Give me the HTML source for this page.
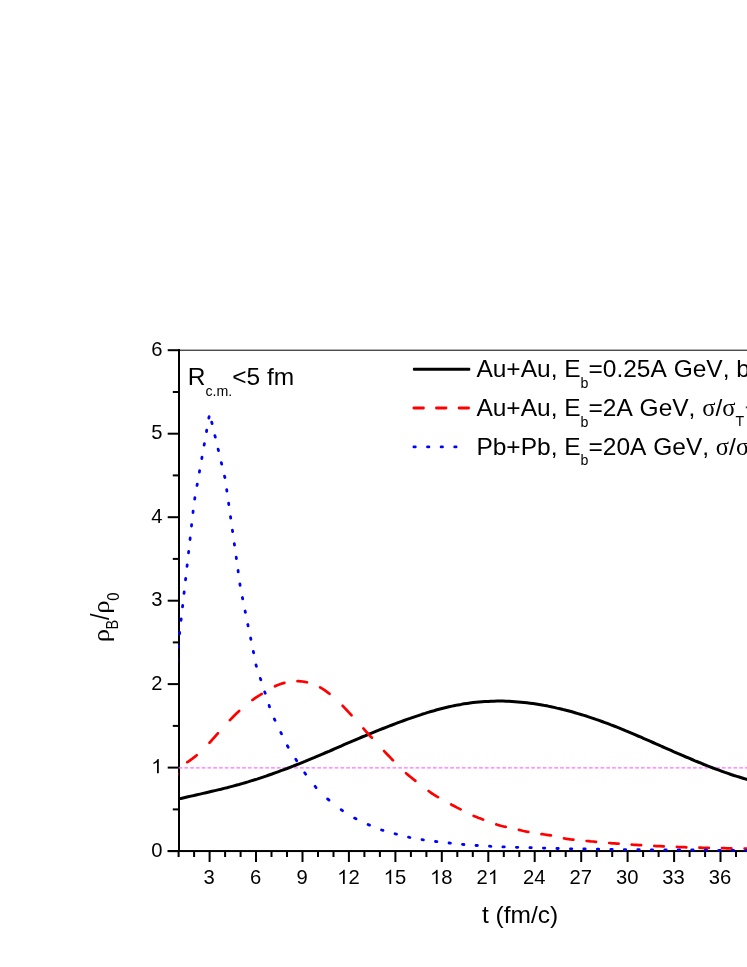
<!DOCTYPE html>
<html><head><meta charset="utf-8"><title>chart</title>
<style>
html,body{margin:0;padding:0;background:#fff;}
body{width:747px;height:967px;overflow:hidden;font-family:"Liberation Sans",sans-serif;}
svg{display:block;will-change:transform;}
text{font-family:"Liberation Sans",sans-serif;fill:#000;font-kerning:none;}
.ser{font-family:"Liberation Serif",serif;}
</style></head><body>
<svg width="747" height="967" viewBox="0 0 747 967">
<rect width="747" height="967" fill="#fff"/>
<rect x="178" y="349.7" width="569" height="1" fill="#000"/>
<rect x="178" y="349" width="2" height="503" fill="#000"/>
<rect x="167.7" y="850.05" width="579.3" height="2" fill="#000"/>
<rect x="167.7" y="850.1" width="11.3" height="2" fill="#000"/>
<rect x="172.8" y="808.4" width="6.2" height="2" fill="#000"/>
<rect x="167.7" y="766.6" width="11.3" height="2" fill="#000"/>
<rect x="172.8" y="724.9" width="6.2" height="2" fill="#000"/>
<rect x="167.7" y="683.1" width="11.3" height="2" fill="#000"/>
<rect x="172.8" y="641.4" width="6.2" height="2" fill="#000"/>
<rect x="167.7" y="599.7" width="11.3" height="2" fill="#000"/>
<rect x="172.8" y="557.9" width="6.2" height="2" fill="#000"/>
<rect x="167.7" y="516.2" width="11.3" height="2" fill="#000"/>
<rect x="172.8" y="474.4" width="6.2" height="2" fill="#000"/>
<rect x="167.7" y="432.7" width="11.3" height="2" fill="#000"/>
<rect x="172.8" y="391.0" width="6.2" height="2" fill="#000"/>
<rect x="167.7" y="349.2" width="11.3" height="2" fill="#000"/>
<rect x="177.6" y="851" width="2" height="6" fill="#000"/>
<rect x="193.1" y="851" width="2" height="6" fill="#000"/>
<rect x="208.6" y="851" width="2" height="11" fill="#000"/>
<rect x="224.1" y="851" width="2" height="6" fill="#000"/>
<rect x="239.6" y="851" width="2" height="6" fill="#000"/>
<rect x="255.0" y="851" width="2" height="11" fill="#000"/>
<rect x="270.5" y="851" width="2" height="6" fill="#000"/>
<rect x="286.0" y="851" width="2" height="6" fill="#000"/>
<rect x="301.5" y="851" width="2" height="11" fill="#000"/>
<rect x="317.0" y="851" width="2" height="6" fill="#000"/>
<rect x="332.5" y="851" width="2" height="6" fill="#000"/>
<rect x="347.9" y="851" width="2" height="11" fill="#000"/>
<rect x="363.4" y="851" width="2" height="6" fill="#000"/>
<rect x="378.9" y="851" width="2" height="6" fill="#000"/>
<rect x="394.4" y="851" width="2" height="11" fill="#000"/>
<rect x="409.9" y="851" width="2" height="6" fill="#000"/>
<rect x="425.4" y="851" width="2" height="6" fill="#000"/>
<rect x="440.8" y="851" width="2" height="11" fill="#000"/>
<rect x="456.3" y="851" width="2" height="6" fill="#000"/>
<rect x="471.8" y="851" width="2" height="6" fill="#000"/>
<rect x="487.3" y="851" width="2" height="11" fill="#000"/>
<rect x="502.8" y="851" width="2" height="6" fill="#000"/>
<rect x="518.3" y="851" width="2" height="6" fill="#000"/>
<rect x="533.7" y="851" width="2" height="11" fill="#000"/>
<rect x="549.2" y="851" width="2" height="6" fill="#000"/>
<rect x="564.7" y="851" width="2" height="6" fill="#000"/>
<rect x="580.2" y="851" width="2" height="11" fill="#000"/>
<rect x="595.7" y="851" width="2" height="6" fill="#000"/>
<rect x="611.2" y="851" width="2" height="6" fill="#000"/>
<rect x="626.6" y="851" width="2" height="11" fill="#000"/>
<rect x="642.1" y="851" width="2" height="6" fill="#000"/>
<rect x="657.6" y="851" width="2" height="6" fill="#000"/>
<rect x="673.1" y="851" width="2" height="11" fill="#000"/>
<rect x="688.6" y="851" width="2" height="6" fill="#000"/>
<rect x="704.1" y="851" width="2" height="6" fill="#000"/>
<rect x="719.5" y="851" width="2" height="11" fill="#000"/>
<rect x="735.0" y="851" width="2" height="6" fill="#000"/>
<defs><clipPath id="plotclip"><rect x="178.1" y="350" width="571" height="502.2"/></clipPath></defs>
<line x1="178.6" clip-path="url(#plotclip)" y1="767.8" x2="747" y2="767.8" stroke="#ff70ff" stroke-width="1.3" stroke-dasharray="3.7 2.08"/>
<g clip-path="url(#plotclip)">
<polyline points="176.0,799.6 179.0,798.9 182.0,798.2 185.0,797.5 188.0,796.8 191.0,796.1 194.0,795.5 197.0,794.8 200.0,794.1 203.0,793.4 206.0,792.7 209.0,792.0 212.0,791.3 215.0,790.6 218.0,789.9 221.0,789.2 224.0,788.4 227.0,787.7 230.0,786.9 233.0,786.1 236.0,785.3 239.0,784.5 242.0,783.6 245.0,782.8 248.0,781.9 251.0,780.9 254.0,780.0 257.0,779.1 260.0,778.1 263.0,777.1 266.0,776.1 269.0,775.0 272.0,774.0 275.0,772.9 278.0,771.8 281.0,770.7 284.0,769.6 287.0,768.5 290.0,767.3 293.0,766.2 296.0,765.0 299.0,763.8 302.0,762.6 305.0,761.4 308.0,760.1 311.0,758.9 314.0,757.7 317.0,756.4 320.0,755.1 323.0,753.8 326.0,752.5 329.0,751.3 332.0,750.0 335.0,748.7 338.0,747.4 341.0,746.1 344.0,744.7 347.0,743.4 350.0,742.2 353.0,740.9 356.0,739.6 359.0,738.3 362.0,737.0 365.0,735.8 368.0,734.5 371.0,733.3 374.0,732.1 377.0,730.9 380.0,729.7 383.0,728.5 386.0,727.3 389.0,726.1 392.0,725.0 395.0,723.8 398.0,722.7 401.0,721.6 404.0,720.5 407.0,719.4 410.0,718.4 413.0,717.3 416.0,716.3 419.0,715.3 422.0,714.3 425.0,713.4 428.0,712.4 431.0,711.5 434.0,710.7 437.0,709.8 440.0,709.0 443.0,708.2 446.0,707.5 449.0,706.8 452.0,706.1 455.0,705.5 458.0,704.9 461.0,704.4 464.0,703.8 467.0,703.4 470.0,703.0 473.0,702.6 476.0,702.3 479.0,702.0 482.0,701.7 485.0,701.5 488.0,701.4 491.0,701.2 494.0,701.2 497.0,701.1 500.0,701.1 503.0,701.1 506.0,701.2 509.0,701.3 512.0,701.5 515.0,701.7 518.0,701.9 521.0,702.2 524.0,702.5 527.0,702.8 530.0,703.2 533.0,703.6 536.0,704.0 539.0,704.5 542.0,705.0 545.0,705.6 548.0,706.1 551.0,706.7 554.0,707.4 557.0,708.1 560.0,708.7 563.0,709.5 566.0,710.2 569.0,711.0 572.0,711.8 575.0,712.7 578.0,713.6 581.0,714.5 584.0,715.4 587.0,716.3 590.0,717.3 593.0,718.3 596.0,719.4 599.0,720.4 602.0,721.5 605.0,722.6 608.0,723.7 611.0,724.9 614.0,726.0 617.0,727.2 620.0,728.4 623.0,729.6 626.0,730.9 629.0,732.1 632.0,733.4 635.0,734.7 638.0,736.0 641.0,737.2 644.0,738.6 647.0,739.9 650.0,741.2 653.0,742.5 656.0,743.8 659.0,745.1 662.0,746.5 665.0,747.8 668.0,749.1 671.0,750.4 674.0,751.8 677.0,753.1 680.0,754.4 683.0,755.7 686.0,757.0 689.0,758.2 692.0,759.5 695.0,760.8 698.0,762.0 701.0,763.2 704.0,764.5 707.0,765.7 710.0,766.8 713.0,768.0 716.0,769.1 719.0,770.2 722.0,771.3 725.0,772.4 728.0,773.4 731.0,774.5 734.0,775.5 737.0,776.4 740.0,777.3 743.0,778.2 746.0,779.1 749.0,779.9" fill="none" stroke="#000" stroke-width="3" stroke-linejoin="round"/>
<path d="M163.2,823.5 L164.5,818.8 M168.2,805.6 L170.9,796.2 M174.7,783.1 L177.4,773.7 M187.3,762.2 L188.7,761.3 L190.7,759.8 L192.7,758.4 L194.7,756.9 L196.7,755.3 L196.7,755.3 M209.5,742.7 L210.7,741.5 L212.7,739.2 L214.7,737.0 L216.7,734.7 L217.9,733.3 M229.9,720.1 L230.7,719.4 L232.7,717.3 L234.7,715.3 L236.7,713.3 L238.7,711.4 L239.2,710.9 M252.4,700.0 L252.7,699.8 L254.7,698.4 L256.6,697.1 L258.6,695.8 L260.6,694.6 L261.8,693.9 M275.0,686.3 L276.6,685.5 L278.6,684.7 L280.6,684.0 L282.6,683.4 L284.4,682.9 M297.5,681.2 L298.6,681.2 L300.6,681.3 L302.6,681.5 L304.6,681.8 L306.6,682.2 L306.9,682.3 M320.1,687.4 L320.6,687.7 L322.6,688.9 L324.6,690.2 L326.6,691.6 L328.6,693.1 L329.5,693.8 M342.7,705.8 L344.6,707.9 L346.6,710.0 L348.6,712.1 L350.6,714.3 L351.5,715.2 M363.4,728.4 L364.6,729.8 L366.6,732.1 L368.6,734.3 L370.6,736.5 L371.9,737.8 M384.1,751.0 L384.6,751.6 L386.6,753.7 L388.6,755.8 L390.6,757.9 L392.6,760.0 L393.0,760.4 M406.0,773.1 L406.6,773.7 L408.6,775.4 L410.6,777.0 L412.6,778.6 L414.6,780.2 L415.4,780.8 M428.6,791.0 L428.6,791.0 L430.6,792.5 L432.6,793.8 L434.6,795.1 L436.6,796.4 L438.0,797.2 M451.2,804.5 L452.6,805.3 L454.6,806.3 L456.6,807.4 L458.6,808.4 L460.6,809.4 M473.7,815.9 L474.6,816.3 L476.6,817.1 L478.6,817.9 L480.6,818.6 L482.6,819.4 L483.1,819.6 M496.3,824.4 L496.6,824.5 L498.6,825.1 L500.6,825.7 L502.6,826.2 L504.6,826.7 L505.7,826.9 M518.9,829.9 L520.6,830.3 L522.6,830.8 L524.6,831.2 L526.6,831.6 L528.3,831.9 M541.5,834.1 L542.6,834.2 L544.6,834.5 L546.6,834.8 L548.6,835.1 L550.6,835.4 L550.9,835.4 M564.0,838.4 L564.6,838.5 L566.6,838.8 L568.6,839.1 L570.6,839.4 L572.6,839.6 L573.4,839.7 M586.6,841.0 L586.6,841.0 L588.6,841.2 L590.6,841.4 L592.6,841.5 L594.6,841.7 L596.0,841.8 M609.2,843.0 L610.6,843.1 L612.6,843.3 L614.6,843.4 L616.6,843.6 L618.6,843.7 M631.7,844.6 L632.6,844.7 L634.6,844.8 L636.6,844.9 L638.6,845.1 L640.6,845.2 L641.1,845.2 M654.3,845.9 L654.6,846.0 L656.6,846.1 L658.6,846.2 L660.6,846.2 L662.6,846.3 L663.7,846.4 M676.9,846.9 L678.6,847.0 L680.6,847.1 L682.6,847.1 L684.6,847.2 L686.3,847.3 M699.4,847.7 L700.6,847.7 L702.6,847.8 L704.6,847.8 L706.6,847.9 L708.6,847.9 L708.8,847.9 M722.0,848.2 L722.6,848.2 L724.6,848.2 L726.6,848.3 L728.6,848.3 L730.6,848.3 L731.4,848.4 M744.6,848.5 L744.6,848.5 L746.6,848.6 L748.6,848.6 L750.6,848.6" fill="none" stroke="#ff0000" stroke-width="2.7" stroke-linecap="round" stroke-linejoin="round"/>
<path d="M163.3,849.6 L163.4,848.2 M164.3,836.1 L164.4,834.7 M165.3,822.6 L165.4,821.2 M166.3,809.1 L166.4,807.8 M167.2,795.7 L167.4,794.3 M168.2,782.2 L168.4,780.8 M169.2,768.7 L169.4,767.3 M170.2,755.2 L170.4,753.8 M171.2,741.7 L171.4,740.3 M172.2,728.2 L172.3,726.8 M173.2,714.8 L173.3,713.4 M174.2,701.3 L174.3,699.9 M175.2,687.8 L175.3,686.4 M176.2,674.3 L176.3,672.9 M177.2,660.8 L177.3,659.4 M178.2,647.3 L178.3,645.9 M179.5,633.8 L179.7,632.4 M181.0,620.4 L181.2,619.0 M182.5,606.9 L182.7,605.5 M184.0,593.4 L184.2,592.0 M185.5,579.9 L185.7,578.5 M187.0,566.4 L187.2,565.0 M188.5,552.9 L188.7,551.5 M190.0,539.5 L190.2,538.0 M191.5,526.0 L191.6,524.6 M193.0,512.5 L193.1,511.1 M194.7,499.0 L194.9,497.6 M197.0,485.5 L197.3,484.1 M199.4,472.0 L199.6,470.6 M201.8,458.5 L202.0,457.1 M204.1,445.1 L204.4,443.7 M206.5,431.6 L206.7,430.2 M208.8,418.1 L209.1,416.7 M211.7,422.2 L212.1,423.6 M214.9,435.7 L215.3,437.1 M218.1,449.2 L218.5,450.6 M221.3,462.7 L221.7,464.1 M224.5,476.1 L224.9,477.5 M226.7,489.6 L226.9,491.0 M228.6,503.1 L228.8,504.5 M230.5,516.6 L230.7,518.0 M232.4,530.1 L232.6,531.5 M234.3,543.6 L234.5,545.0 M236.2,557.1 L236.4,558.5 M238.1,570.5 L238.2,571.9 M239.9,584.0 L240.1,585.4 M242.4,597.5 L242.7,598.9 M245.1,611.0 L245.4,612.4 M247.8,624.5 L248.1,625.9 M250.6,638.0 L250.9,639.4 M253.3,651.4 L253.6,652.8 M256.0,664.9 L256.1,665.5 L256.4,666.3 M260.3,678.4 L260.8,679.8 M264.7,691.9 L265.2,693.3 M269.1,705.4 L269.5,706.8 M274.3,718.9 L275.0,720.3 M280.8,732.4 L281.5,733.8 M287.4,745.8 L288.2,747.2 M295.8,759.3 L296.7,760.7 M304.7,772.8 L305.7,774.2 M315.1,786.3 L316.1,787.7 M327.6,798.9 L329.0,800.1 M341.1,809.7 L342.5,810.7 M354.6,818.1 L356.0,818.8 M368.1,824.5 L369.5,825.1 M381.6,830.0 L383.0,830.4 M395.1,833.8 L395.6,834.0 L396.5,834.2 M408.5,837.2 L409.9,837.5 M422.0,839.7 L423.4,839.9 M435.5,841.5 L436.9,841.6 M449.0,843.0 L450.4,843.1 M462.5,844.3 L463.9,844.5 M476.0,845.5 L477.4,845.5 M489.5,846.2 L490.9,846.3 M502.9,846.8 L504.1,846.9 L504.3,846.9 M516.4,847.3 L517.8,847.3 M529.9,847.7 L531.3,847.7 M543.4,848.1 L544.8,848.1 M556.9,848.5 L558.3,848.5 M570.4,848.8 L571.8,848.8 M583.8,849.0 L585.2,849.0 M597.3,849.2 L598.7,849.2 M610.8,849.4 L612.2,849.4 M624.3,849.6 L625.7,849.6 M637.8,849.7 L639.2,849.7 M651.3,849.8 L652.7,849.9 M664.8,849.9 L666.2,849.9 M678.2,849.9 L679.6,849.9 M691.7,850.0 L693.1,850.0 M705.2,850.1 L705.6,850.1 L706.6,850.1 M718.7,850.3 L720.1,850.3 M732.2,850.3 L733.6,850.3 M745.7,850.3 L747.1,850.3 M759.1,850.3 L760.6,850.4" fill="none" stroke="#0000ff" stroke-width="2.8" stroke-linecap="round"/>
</g>
<text transform="translate(151.27,856.80) scale(1,1.03)" font-size="20.2">0</text>
<path transform="translate(151.27,773.32) scale(0.00986,-0.00973)" d="M763 0H583V1147Q518 1085 412.5 1023Q307 961 223 930V1104Q374 1175 487 1276Q600 1377 647 1472H763Z" fill="#000"/>
<text transform="translate(151.27,689.84) scale(1,1.03)" font-size="20.2">2</text>
<text transform="translate(151.27,606.36) scale(1,1.03)" font-size="20.2">3</text>
<text transform="translate(151.27,522.88) scale(1,1.03)" font-size="20.2">4</text>
<text transform="translate(151.27,439.40) scale(1,1.03)" font-size="20.2">5</text>
<text transform="translate(151.27,355.92) scale(1,1.03)" font-size="20.2">6</text>
<text transform="translate(203.48,884.00) scale(1,1.03)" font-size="20.2">3</text>
<text transform="translate(249.93,884.00) scale(1,1.03)" font-size="20.2">6</text>
<text transform="translate(296.38,884.00) scale(1,1.03)" font-size="20.2">9</text>
<path transform="translate(337.21,884.00) scale(0.00986,-0.00973)" d="M763 0H583V1147Q518 1085 412.5 1023Q307 961 223 930V1104Q374 1175 487 1276Q600 1377 647 1472H763Z" fill="#000"/>
<text transform="translate(348.44,884.00) scale(1,1.03)" font-size="20.2">2</text>
<path transform="translate(383.66,884.00) scale(0.00986,-0.00973)" d="M763 0H583V1147Q518 1085 412.5 1023Q307 961 223 930V1104Q374 1175 487 1276Q600 1377 647 1472H763Z" fill="#000"/>
<text transform="translate(394.89,884.00) scale(1,1.03)" font-size="20.2">5</text>
<path transform="translate(430.11,884.00) scale(0.00986,-0.00973)" d="M763 0H583V1147Q518 1085 412.5 1023Q307 961 223 930V1104Q374 1175 487 1276Q600 1377 647 1472H763Z" fill="#000"/>
<text transform="translate(441.34,884.00) scale(1,1.03)" font-size="20.2">8</text>
<text transform="translate(476.56,884.00) scale(1,1.03)" font-size="20.2">2</text>
<path transform="translate(487.79,884.00) scale(0.00986,-0.00973)" d="M763 0H583V1147Q518 1085 412.5 1023Q307 961 223 930V1104Q374 1175 487 1276Q600 1377 647 1472H763Z" fill="#000"/>
<text transform="translate(523.00,884.00) scale(1,1.03)" font-size="20.2">2</text>
<text transform="translate(534.24,884.00) scale(1,1.03)" font-size="20.2">4</text>
<text transform="translate(569.45,884.00) scale(1,1.03)" font-size="20.2">2</text>
<text transform="translate(580.69,884.00) scale(1,1.03)" font-size="20.2">7</text>
<text transform="translate(615.90,884.00) scale(1,1.03)" font-size="20.2">3</text>
<text transform="translate(627.14,884.00) scale(1,1.03)" font-size="20.2">0</text>
<text transform="translate(662.35,884.00) scale(1,1.03)" font-size="20.2">3</text>
<text transform="translate(673.59,884.00) scale(1,1.03)" font-size="20.2">3</text>
<text transform="translate(708.80,884.00) scale(1,1.03)" font-size="20.2">3</text>
<text transform="translate(720.03,884.00) scale(1,1.03)" font-size="20.2">6</text>
<text transform="translate(482.0,922.5) scale(1.0,1)" font-size="24.5" text-anchor="start" >t (fm/c)</text>
<text class="ser" transform="translate(109.1,642.2) rotate(-90) scale(1.0,0.88)" font-size="27">&#961;</text>
<text transform="translate(118.3,629.5) rotate(-90) scale(1.0,1.08)" font-size="14.5">B</text>
<text transform="translate(109.4,620.0) rotate(-90) scale(1.0,1.085)" font-size="23.5">/</text>
<text class="ser" transform="translate(109.1,613.8) rotate(-90) scale(1.0,0.88)" font-size="27">&#961;</text>
<text transform="translate(118.85,600.7) rotate(-90) scale(1.0,1.1)" font-size="14.8">0</text>
<text transform="translate(187.8,385.4) scale(1.0,1)" font-size="24.5" text-anchor="start" >R<tspan font-size="14.2" dy="10.3">c.m.</tspan><tspan dy="-10.3" font-size="1">&#8203;</tspan>&lt;5 fm</text>
<rect x="412.9" y="367.8" width="57.4" height="3" rx="1" fill="#000"/>
<line x1="413.85" y1="408.0" x2="468.6" y2="408.0" stroke="#ff0000" stroke-width="2.8" stroke-linecap="round" stroke-dasharray="9.6 13"/>
<line x1="413.9" y1="446.9" x2="457" y2="446.9" stroke="#0000ff" stroke-width="2.8" stroke-linecap="round" stroke-dasharray="1.4 12.2"/>
<text transform="translate(476.4,377.4) scale(1.0,1)" font-size="24.5" text-anchor="start" >Au+Au, E<tspan font-size="14.2" dy="10.6">b</tspan><tspan dy="-10.6" font-size="1">&#8203;</tspan>=0.25A GeV, b=0</text>
<text transform="translate(476.4,416.1) scale(1.0,1)" font-size="24.5" text-anchor="start" >Au+Au, E<tspan font-size="14.2" dy="10.6">b</tspan><tspan dy="-10.6" font-size="1">&#8203;</tspan>=2A GeV, <tspan class="ser">&#963;</tspan>/<tspan class="ser">&#963;</tspan><tspan font-size="14.2" dy="10.0">T</tspan><tspan dy="-10.0" font-size="1">&#8203;</tspan></text>
<text transform="translate(476.4,454.6) scale(1.0,1)" font-size="24.5" text-anchor="start" >Pb+Pb, E<tspan font-size="14.2" dy="10.6">b</tspan><tspan dy="-10.6" font-size="1">&#8203;</tspan>=20A GeV, <tspan class="ser">&#963;</tspan>/<tspan class="ser">&#963;</tspan><tspan font-size="14.2" dy="10.0">T</tspan><tspan dy="-10.0" font-size="1">&#8203;</tspan>=1</text>
<rect x="745.8" y="406.4" width="1.2" height="1.9" fill="#444"/>
</svg>
</body></html>
